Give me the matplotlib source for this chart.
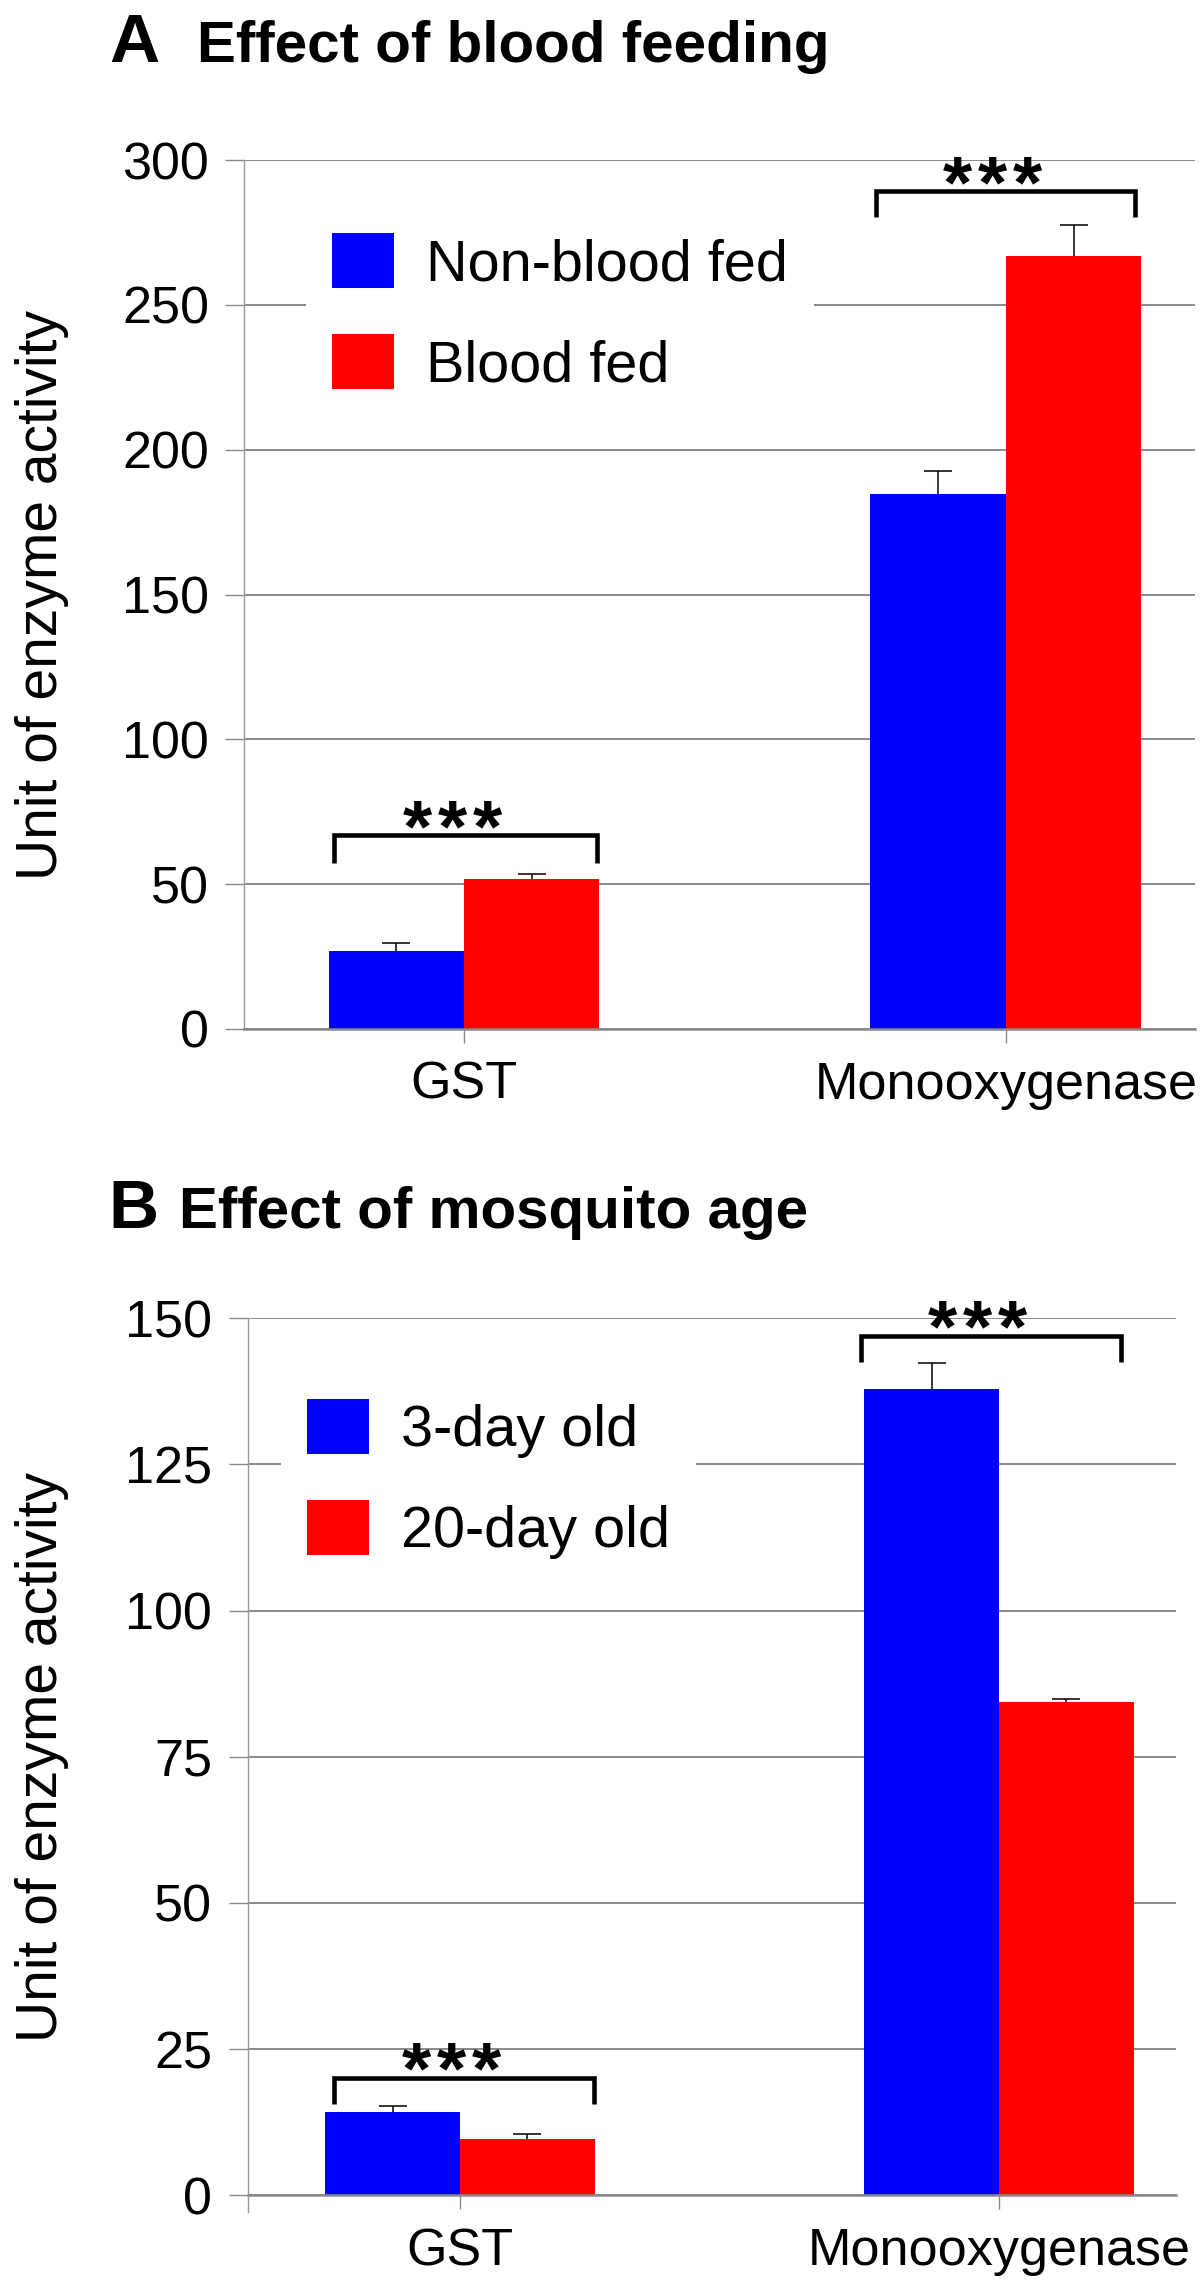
import numpy as np
import matplotlib
matplotlib.use("Agg")
import matplotlib.pyplot as plt
from matplotlib.patches import Patch

plt.rcParams['font.family'] = ['Liberation Sans', 'DejaVu Sans']

# ---------------- data ----------------
categories = ['GST', 'Monooxygenase']

# Panel A: effect of blood feeding
a_labels = ['Non-blood fed', 'Blood fed']
a_nonfed = [26.8, 184.8]
a_nonfed_err = [2.9, 7.9]
a_fed = [51.7, 266.9]
a_fed_err = [1.9, 10.7]
a_sig = ['***', '***']
a_bracket_top = [67.0, 289.2]
a_bracket_bottom = [57.4, 280.2]

# Panel B: effect of mosquito age
b_labels = ['3-day old', '20-day old']
b_young = [14.2, 137.9]
b_young_err = [1.1, 4.5]
b_old = [9.7, 84.3]
b_old_err = [0.7, 0.6]
b_sig = ['***', '***']
b_bracket_top = [20.1, 147.0]
b_bracket_bottom = [15.7, 142.6]

a_yticks = [0, 50, 100, 150, 200, 250, 300]
b_yticks = [0, 25, 50, 75, 100, 125, 150]

# ---------------- style ----------------
BLUE = '#0000ff'
RED = '#ff0000'
GRID = '#8a8a8a'
W, H = 1200, 2284
fig = plt.figure(figsize=(W / 100, H / 100), dpi=100)


def px_axes(left, right, top, bottom):
    return fig.add_axes([left / W, 1 - bottom / H, (right - left) / W, (bottom - top) / H])


def panel(ax, s1, e1, s2, e2, labels, yticks, xlim, btop, bbot, bx, sig,
          legend_center, extend_axis):
    x = np.arange(len(categories))
    w = 0.25
    ax.bar(x - w / 2, s1, w, color=BLUE, zorder=2, label=labels[0])
    ax.bar(x + w / 2, s2, w, color=RED, zorder=2, label=labels[1])
    ekw = dict(fmt='none', ecolor='black', elinewidth=1.1, capsize=10, capthick=1.1, zorder=3)
    for xs, vals, errs in ((x - w / 2, s1, e1), (x + w / 2, s2, e2)):
        eb = ax.errorbar(xs, vals, yerr=[np.zeros(len(x)), errs], **ekw)
        caps = eb.lines[1]
        if len(caps) >= 2:
            caps[0].set_visible(False)   # hide cap at the bar top

    ax.set_xlim(*xlim)
    ax.set_ylim(yticks[0], yticks[-1])
    ax.set_yticks(yticks)
    ax.set_xticks(x)
    ax.set_xticklabels(categories)
    ax.yaxis.grid(True, color=GRID, lw=1.4, zorder=0)
    ax.set_axisbelow(True)
    for s in ['top', 'right', 'left']:
        ax.spines[s].set_visible(False)
    ax.spines['bottom'].set_color(GRID)
    ax.spines['bottom'].set_linewidth(1.8)
    ymin = -17 / (ax.get_position().height * H) if extend_axis else 0
    ax.axvline(xlim[0], ymin=ymin, ymax=1, color='#9a9a9a', lw=1.0, clip_on=False, zorder=1)
    ax.tick_params(axis='y', length=13.5, width=1.0, color=GRID, pad=12, labelsize=37.5)
    ax.tick_params(axis='x', length=10, width=1.0, color=GRID, pad=13, labelsize=37.5)

    # significance brackets
    for i in range(len(x)):
        lo, hi = x[i] + bx[i][0], x[i] + bx[i][1]
        ax.plot([lo, lo, hi, hi], [bbot[i], btop[i], btop[i], bbot[i]], color='black',
                lw=3.3, solid_joinstyle='miter', solid_capstyle='butt', zorder=4)
        cx = (lo + hi) / 2
        for k in range(len(sig[i])):
            ax.annotate('*', xy=(cx, btop[i]), xytext=(-9.4 + (k - 1) * 25.2, -11.5),
                        textcoords='offset points', ha='center', va='baseline',
                        fontsize=54, fontweight='bold', zorder=5)

    handles = [Patch(facecolor=BLUE, edgecolor='none'), Patch(facecolor=RED, edgecolor='none')]
    ax.legend(handles, labels, loc='center left',
              bbox_to_anchor=(legend_center[0] / W, 1 - legend_center[1] / H),
              bbox_transform=fig.transFigure, frameon=True, facecolor='white',
              edgecolor='none', framealpha=1, fancybox=False, fontsize=41.5,
              handlelength=1.08, handleheight=1.1, handletextpad=0.55,
              labelspacing=0.72, borderpad=0.45, borderaxespad=0)

    ax.set_ylabel('Unit of enzyme activity', fontsize=41)
    pos = ax.get_position()
    ax.yaxis.set_label_coords(69 / W, pos.y0 + pos.height / 2, transform=fig.transFigure)


axA = px_axes(244.5, 1195, 160, 1029)
panel(axA, a_nonfed, a_nonfed_err, a_fed, a_fed_err, a_labels, a_yticks,
      ((244.5 - 464) / 542, (1195 - 464) / 542), a_bracket_top, a_bracket_bottom,
      [(-0.24, 0.245), (-0.24, 0.238)], a_sig, (306, 313), False)

axB = px_axes(247.5, 1176, 1318.3, 2195.3)
panel(axB, b_young, b_young_err, b_old, b_old_err, b_labels, b_yticks,
      ((247.5 - 460) / 539, (1176 - 460) / 539), b_bracket_top, b_bracket_bottom,
      [(-0.234, 0.249), (-0.256, 0.226)], b_sig, (281, 1479), True)

# panel titles
fig.text(109 / W, 1 - 62 / H, 'A', fontsize=50, fontweight='bold', va='baseline', ha='left')
fig.text(197 / W, 1 - 62 / H, 'Effect of blood feeding', fontsize=42, fontweight='bold',
         va='baseline', ha='left')
fig.text(108 / W, 1 - 1228 / H, 'B', fontsize=50, fontweight='bold', va='baseline', ha='left')
fig.text(179 / W, 1 - 1228 / H, 'Effect of mosquito age', fontsize=42, fontweight='bold',
         va='baseline', ha='left')

fig.savefig('out.png', dpi=100, facecolor='white')
